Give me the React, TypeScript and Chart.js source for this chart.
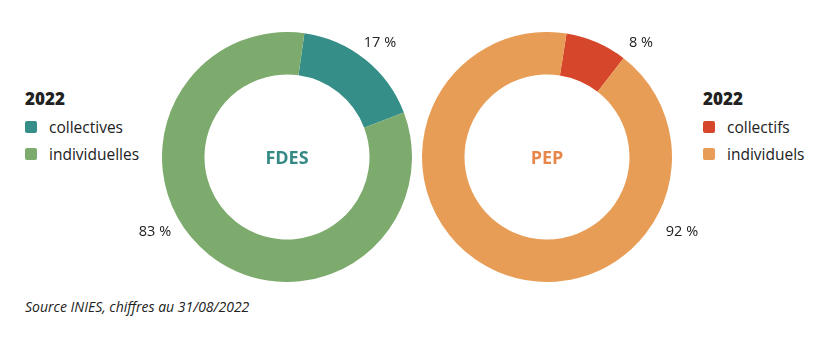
import React, { useEffect, useRef } from "react";
import { Chart, registerables } from "chart.js";

Chart.register(...registerables);

const fdesLabels = ["collectives", "individuelles"];
const fdesValues = [17, 83];
const fdesColors = ["#358f88", "#7dab6d"];

const pepLabels = ["collectifs", "individuels"];
const pepValues = [8, 92];
const pepColors = ["#d5462a", "#e89d56"];

const legendTitle = "2022";
const sourceText = "Source INIES, chiffres au 31/08/2022";

const FONT = "'Open Sans', 'Lato', sans-serif";

function Donut(props: { labels: string[]; values: number[]; colors: string[]; rotation: number; left: number; top: number }) {
  const ref = useRef<HTMLCanvasElement | null>(null);
  useEffect(() => {
    if (!ref.current) return;
    const chart = new Chart(ref.current, {
      type: "doughnut",
      data: {
        labels: props.labels,
        datasets: [
          {
            data: props.values,
            backgroundColor: props.colors,
            borderWidth: 0,
          },
        ],
      },
      options: {
        responsive: false,
        animation: false,
        cutout: "66%",
        rotation: props.rotation,
        layout: { padding: 0 },
        plugins: { legend: { display: false }, tooltip: { enabled: false } },
      },
    });
    return () => chart.destroy();
  }, []);
  return (
    <canvas
      ref={ref}
      width={250}
      height={250}
      style={{ position: "absolute", left: props.left, top: props.top, width: 250, height: 250 }}
    />
  );
}

function Legend(props: { left: number; labels: string[]; colors: string[] }) {
  return (
    <div style={{ position: "absolute", left: props.left, top: 88, fontFamily: FONT, color: "#222" }}>
      <div style={{ fontWeight: 800, fontSize: 17, lineHeight: "22px", height: 25 }}>{legendTitle}</div>
      {props.labels.map((l, i) => (
        <div key={l} style={{ display: "flex", alignItems: "center", height: 27, fontSize: 15.5 }}>
          <span
            style={{
              display: "inline-block",
              width: 12,
              height: 12,
              borderRadius: 2,
              background: props.colors[i],
              marginRight: 12,
            }}
          />
          <span>{l}</span>
        </div>
      ))}
    </div>
  );
}

function Label(props: { x: number; y: number; text: string }) {
  return (
    <div
      style={{
        position: "absolute",
        left: props.x,
        top: props.y,
        transform: "translate(-50%, -50%)",
        fontFamily: FONT,
        fontSize: 14.5,
        color: "#222",
        whiteSpace: "nowrap",
      }}
    >
      {props.text}
    </div>
  );
}

function Center(props: { x: number; y: number; text: string; color: string }) {
  return (
    <div
      style={{
        position: "absolute",
        left: props.x,
        top: props.y,
        transform: "translate(-50%, -50%)",
        fontFamily: FONT,
        fontSize: 18,
        fontWeight: 700,
        color: props.color,
      }}
    >
      {props.text}
    </div>
  );
}

export default function App() {
  return (
    <div style={{ position: "fixed", left: 0, top: 0, width: 825, height: 346, background: "#fff", overflow: "hidden" }}>
      <Donut labels={fdesLabels} values={fdesValues} colors={fdesColors} rotation={8} left={162} top={32} />
      <Donut labels={pepLabels} values={pepValues} colors={pepColors} rotation={9} left={422} top={32} />
      <Center x={287} y={157} text="FDES" color="#358a85" />
      <Center x={547} y={157} text="PEP" color="#e8874c" />
      <Label x={380} y={41} text={`${fdesValues[0]} %`} />
      <Label x={155} y={230} text={`${fdesValues[1]} %`} />
      <Label x={641} y={41} text={`${pepValues[0]} %`} />
      <Label x={682} y={230} text={`${pepValues[1]} %`} />
      <Legend left={25} labels={fdesLabels} colors={fdesColors} />
      <Legend left={703} labels={pepLabels} colors={pepColors} />
      <div
        style={{
          position: "absolute",
          left: 25,
          top: 297,
          fontFamily: FONT,
          fontStyle: "italic",
          fontSize: 14,
          color: "#222",
          whiteSpace: "nowrap",
        }}
      >
        {sourceText}
      </div>
    </div>
  );
}
